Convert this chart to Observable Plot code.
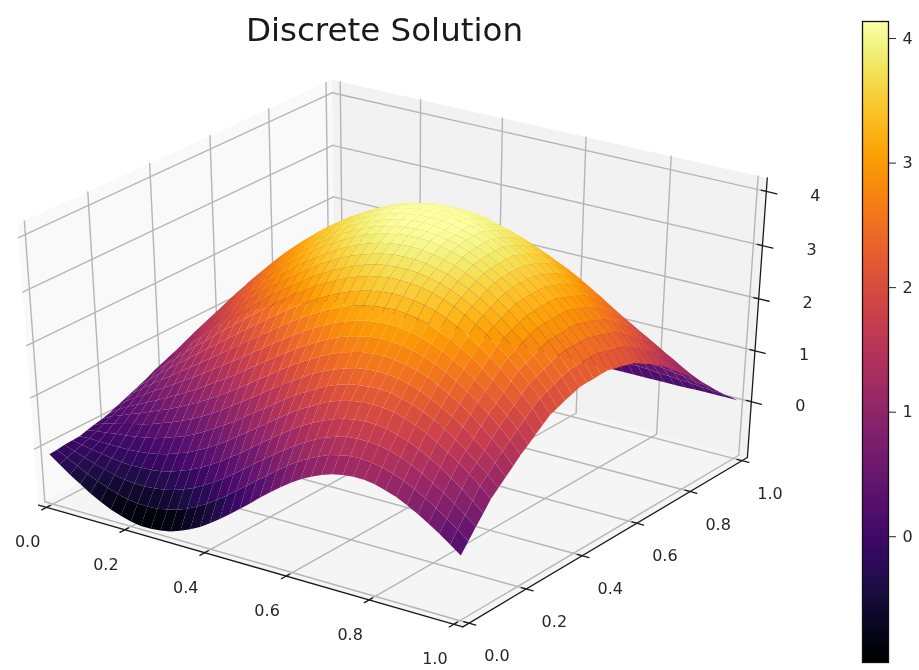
<!DOCTYPE html>
<html><head><meta charset="utf-8">
<script src="https://cdn.jsdelivr.net/npm/d3@7"></script>
<script src="https://cdn.jsdelivr.net/npm/@observablehq/plot@0.6"></script>
<style>body{margin:0;background:#fff;font-family:"DejaVu Sans"}#w{position:relative;width:919px;height:670px;overflow:hidden}#w svg{position:absolute;top:0;background:transparent;filter:blur(.4px)}</style>
</head><body><div id="w"></div>
<script>
const chartTitle="Discrete Solution";
const xTicks=[0,.2,.4,.6,.8,1], yTicks=[0,.2,.4,.6,.8,1], zTicks=[0,1,2,3,4];
const zMin=-1.01, zMax=4.137;
// Surface height times 100, rows y=0..1, columns x=0..1 in steps of 1/40.
// Edges read against the axes, the interior a smooth shape tuned by eye to the outline and colours.
const zRows=[
[-12,-27,-42,-55,-68,-79,-89,-96,-102,-105,-105,-103,-99,-92,-83,-73,-60,-46,-31,-15,1,18,34,49,63,76,86,95,102,106,108,108,105,99,92,82,71,58,45,30,15],
[-11,-21,-32,-42,-51,-59,-66,-71,-74,-74,-73,-69,-64,-56,-46,-35,-22,-8,7,22,38,53,68,83,96,107,117,125,130,134,135,133,129,123,115,105,93,80,65,50,34],
[-9,-16,-23,-30,-36,-41,-45,-47,-48,-46,-43,-38,-31,-23,-12,-1,12,26,41,56,71,86,100,113,125,136,145,152,157,159,159,157,153,146,137,127,114,101,86,70,53],
[-8,-11,-15,-18,-21,-24,-25,-24,-23,-20,-15,-8,0,9,20,32,46,59,74,89,103,117,131,143,154,164,172,178,182,184,183,181,175,168,159,148,135,121,106,89,71],
[-7,-6,-7,-7,-7,-7,-5,-3,1,6,13,20,30,40,52,64,78,92,106,120,134,148,161,172,183,192,199,204,207,208,207,204,198,190,181,169,156,142,126,109,90],
[-3,1,3,6,8,11,15,19,25,32,39,48,59,70,82,94,108,122,135,149,163,176,187,198,208,216,222,226,228,229,227,222,216,208,198,186,172,157,140,123,103],
[1,8,13,18,23,28,34,41,48,56,65,75,86,98,111,124,137,151,164,177,190,202,214,224,232,239,245,248,249,249,246,241,234,225,214,202,188,172,155,137,116],
[4,15,22,30,37,45,53,61,70,80,90,101,113,125,138,151,165,178,192,205,217,228,239,248,256,262,267,269,270,268,265,259,252,242,231,218,203,187,169,151,129],
[8,21,32,41,51,60,70,80,91,102,114,126,138,151,165,178,192,205,218,231,242,253,263,272,279,284,288,290,289,287,283,277,269,259,247,233,218,202,184,164,142],
[14,30,42,54,66,77,89,101,113,125,138,151,164,177,191,204,218,231,244,256,267,277,287,294,301,305,308,309,308,305,300,293,285,274,262,248,232,215,197,177,153],
[20,38,53,67,80,93,107,120,133,147,160,174,188,202,216,229,243,256,268,280,291,300,309,316,321,325,327,328,326,322,317,309,300,289,276,261,245,228,209,189,165],
[26,46,63,79,94,109,124,138,153,167,182,196,211,225,239,253,267,279,292,303,313,322,330,336,341,344,346,345,343,339,333,325,315,303,290,275,259,241,222,201,176],
[32,54,73,90,107,124,140,155,171,187,202,217,232,247,261,275,289,301,313,324,334,343,350,356,360,363,363,362,360,355,348,340,329,317,304,288,272,253,234,212,187],
[37,61,81,100,118,135,153,170,186,202,218,234,250,265,279,293,306,319,330,341,350,358,365,370,374,375,376,374,370,365,358,349,338,326,311,296,279,260,240,218,192],
[41,67,88,109,128,147,165,183,200,217,234,250,266,281,295,309,322,335,346,356,365,372,378,383,386,387,387,384,380,375,367,357,346,333,319,303,285,266,246,224,198],
[46,73,95,117,137,157,176,195,213,230,247,264,280,295,310,324,337,349,360,370,378,385,391,395,397,398,397,394,389,383,375,365,354,340,326,309,292,273,252,230,203],
[50,78,102,125,146,166,186,206,224,243,260,277,293,309,323,337,350,362,372,382,390,396,401,405,407,407,406,402,397,391,382,372,360,347,332,315,298,278,258,235,208],
[54,83,108,131,153,174,195,214,233,252,270,287,303,319,333,347,359,371,381,390,397,403,408,411,412,412,410,406,401,394,385,374,362,349,333,317,299,279,259,236,209],
[58,88,113,137,159,181,202,222,241,260,278,295,311,327,341,354,367,378,388,396,403,409,413,416,417,416,413,409,404,396,387,376,364,350,335,318,300,280,259,237,209],
[62,92,118,142,165,187,208,229,248,267,285,302,318,334,348,361,373,384,393,401,408,413,417,419,419,418,416,411,405,398,388,377,364,350,335,318,300,281,260,237,210],
[66,97,123,147,170,192,214,234,254,273,291,308,324,339,353,366,377,388,397,405,411,416,419,421,421,419,416,412,405,397,388,377,364,350,335,318,300,281,260,237,210],
[68,98,124,149,172,194,216,236,256,274,292,309,325,340,353,366,377,387,396,403,409,414,416,418,418,416,412,407,401,393,383,372,359,345,330,313,296,276,256,233,206],
[69,100,126,150,173,195,216,236,255,274,292,309,324,338,352,364,375,385,393,400,406,410,412,413,413,411,407,402,395,387,378,367,354,340,325,308,291,272,251,229,203],
[71,101,127,151,173,195,216,236,256,274,291,307,322,337,350,361,372,381,389,396,401,404,407,407,407,404,400,395,388,380,370,359,347,333,319,302,285,267,247,225,199],
[72,102,127,151,173,195,215,235,254,272,289,304,319,333,345,357,367,376,383,389,394,398,399,399,399,397,393,387,381,372,362,352,340,326,312,296,279,261,242,221,195],
[71,100,125,148,170,191,211,230,248,265,282,297,311,324,336,347,357,365,372,378,382,385,387,387,386,383,379,374,367,359,350,339,327,314,300,285,268,251,232,211,186],
[70,98,122,144,166,186,205,224,241,258,274,288,302,314,326,336,345,353,360,365,369,372,373,373,372,369,365,360,353,345,336,325,314,301,287,273,257,240,221,202,178],
[69,96,119,140,161,180,199,217,233,249,264,278,291,303,314,324,332,340,346,351,355,357,358,358,356,354,350,344,338,330,321,311,300,288,274,260,245,228,211,192,169],
[68,94,116,136,156,174,192,209,225,240,254,267,279,291,301,310,318,325,331,335,339,341,342,341,340,337,333,328,321,314,305,296,285,273,261,247,232,217,200,182,160],
[64,88,109,128,146,164,180,196,211,226,239,251,263,274,283,292,299,305,311,315,318,320,321,320,318,316,312,307,301,294,285,276,266,255,243,230,216,202,186,169,148],
[59,82,101,119,136,153,168,183,197,211,223,235,245,255,264,272,279,285,289,293,296,298,298,298,296,293,290,285,279,272,265,256,246,236,224,212,199,186,171,155,136],
[55,76,93,110,126,141,156,169,182,195,206,217,227,236,244,251,257,263,267,270,273,274,275,274,272,270,266,262,257,250,243,235,226,217,206,195,183,170,157,142,124],
[50,69,86,101,115,129,142,155,167,178,188,198,207,215,222,229,235,239,243,246,248,250,250,249,248,245,242,238,233,227,221,213,205,196,187,177,166,154,142,128,112],
[44,61,76,89,102,115,126,138,148,158,167,176,184,191,198,204,209,213,217,219,221,222,222,222,220,218,215,211,207,201,196,189,182,174,165,156,146,136,125,112,98],
[38,53,65,77,89,100,110,120,129,138,146,154,161,167,173,178,182,186,189,191,193,193,193,193,192,190,187,184,180,175,170,164,157,150,143,135,126,117,107,96,84],
[31,44,55,65,75,84,93,101,109,117,124,130,136,141,146,151,154,157,160,162,163,164,164,163,162,160,158,155,152,148,143,138,133,126,120,113,106,98,89,80,69],
[25,36,45,53,61,68,76,83,89,95,101,106,111,115,119,123,126,128,130,132,133,133,133,133,132,130,128,126,123,120,116,112,107,102,97,91,85,79,72,64,55],
[19,27,34,40,47,52,58,63,68,73,77,82,85,89,92,94,97,99,100,101,102,103,103,102,102,100,99,97,95,92,89,86,83,79,75,70,66,61,55,50,43],
[13,18,23,28,32,36,40,44,47,50,53,56,59,61,63,65,67,68,69,70,71,71,71,71,70,70,69,67,66,64,62,60,58,55,52,49,46,42,39,35,30],
[6,9,12,14,17,19,21,23,25,27,28,30,31,33,34,35,36,37,37,38,38,38,38,38,38,38,37,37,36,35,34,33,32,30,29,27,26,24,22,20,18],
[0,0,0,0,1,1,1,1,1,1,1,1,2,2,2,2,2,2,2,2,3,3,3,3,3,3,3,3,4,4,4,4,4,4,4,4,5,5,5,5,5]];
const p=1/48, zp=(zMax-zMin)/48, zb=zMin-zp, zt=zMax+zp;
// Camera of the 3D view (homogeneous 3×4 matrix from x, y, z to the page).
const C=[389.2654,309.1882,-4.115409,48.41352,87.60285,-127.4428,-55.29691,447.5744,-0.0489432,0.06272582,-0.01033346,1];
const proj=(x,y,z)=>{const w=C[8]*x+C[9]*y+C[10]*z+C[11];return [(C[0]*x+C[1]*y+C[2]*z+C[3])/w,(C[4]*x+C[5]*y+C[6]*z+C[7])/w];};
const pt=(id,x,y,z)=>{const q=proj(x,y,z);return {id,X:q[0],Y:q[1]};};
const poly=(id,c)=>[...c,c[0]].map(k=>pt(id,...k));
const a=-p,b=1+p;
const paneX=poly("x",[[a,a,zb],[a,b,zb],[a,b,zt],[a,a,zt]]);
const paneY=poly("y",[[a,b,zb],[b,b,zb],[b,b,zt],[a,b,zt]]);
const paneZ=poly("z",[[a,a,zb],[b,a,zb],[b,b,zb],[a,b,zb]]);
const seg=(id,s,e)=>[pt(id,...s),pt(id,...e)];
const grid=[];
xTicks.forEach((t,i)=>grid.push(...seg("gx"+i,[t,a,zb],[t,b,zb]),...seg("hx"+i,[t,b,zb],[t,b,zt])));
yTicks.forEach((t,i)=>grid.push(...seg("gy"+i,[a,t,zb],[b,t,zb]),...seg("hy"+i,[a,t,zb],[a,t,zt])));
zTicks.forEach((t,i)=>grid.push(...seg("z1"+i,[a,a,t],[a,b,t]),...seg("z2"+i,[a,b,t],[b,b,t])));
const axes=[...seg("ax",[a,a,zb],[b,a,zb]),...seg("ay",[b,a,zb],[b,b,zb]),...seg("az",[b,b,zb],[b,b,zt])];
xTicks.forEach((t,i)=>axes.push(...seg("tx"+i,[t,a+.012,zb],[t,a-.016,zb])));
yTicks.forEach((t,i)=>axes.push(...seg("ty"+i,[b-.012,t,zb],[b+.016,t,zb])));
zTicks.forEach((t,i)=>axes.push(...seg("tz"+i,[b-.012,b,t],[b+.024,b,t])));
const n=zRows.length-1, quads=[];
for(let j=0;j<n;j++)for(let i=0;i<n;i++){
 const c=[[i,j],[i+1,j],[i+1,j+1],[i,j+1]].map(([ii,jj])=>[ii/n,jj/n,zRows[jj][ii]/100]);
 quads.push({id:j*100+i,v:d3.mean(c,k=>k[2]),dep:d3.mean(c,k=>C[8]*k[0]+C[9]*k[1]+C[10]*k[2]+C[11]),c});
}
quads.sort((q,r)=>d3.descending(q.dep,r.dep));
const surf=quads.flatMap(q=>poly(q.id,q.c).map(d=>({...d,v:q.v})));
const lab=(x,y,z,t)=>{const q=proj(x,y,z);return {X:q[0],Y:q[1],t};};
const lineO={x:"X",y:"Y",z:"id"};
const ff="DejaVu Sans", tf=16;
const txt={x:"X",y:"Y",text:"t",fontSize:tf,fontFamily:ff,fill:"#262626"};
const main=Plot.plot({width:919,height:670,margin:0,style:{background:"transparent",fontFamily:ff},
 x:{domain:[0,919],range:[0,919],axis:null},y:{domain:[0,670],range:[0,670],axis:null},
 color:{type:"linear",scheme:"inferno",domain:[zMin,zMax]},
 marks:[
 Plot.line(paneX,{...lineO,fill:"#f9f9f9",stroke:"none"}),
 Plot.line(paneY,{...lineO,fill:"#f2f2f2",stroke:"none"}),
 Plot.line(paneZ,{...lineO,fill:"#f5f5f5",stroke:"none"}),
 Plot.line(grid,{...lineO,stroke:"#b5b5b5",strokeWidth:1.4}),
 Plot.line(axes,{...lineO,stroke:"#1a1a1a",strokeWidth:1.3}),
 Plot.line(surf,{...lineO,fill:"v",stroke:"none"}),
 Plot.text(xTicks.map(t=>lab(t,a,zb,t.toFixed(1))),{...txt,dx:-19,dy:35}),
 Plot.text(yTicks.map(t=>lab(b,t,zb,t.toFixed(1))),{...txt,dx:28,dy:33}),
 Plot.text(zTicks.map(t=>lab(b,b,t,String(t))),{...txt,dx:49,dy:4}),
 Plot.text([chartTitle],{frameAnchor:"top-left",text:d=>d,dx:384,dy:17,fontSize:32.5,fontFamily:ff,fill:"#1a1a1a",textAnchor:"middle"})
 ]});
const w=document.getElementById("w");main.style.left="0";w.append(main);
const bands=d3.range(256).map(i=>{const s=(zMax-zMin)/256;return {lo:zMin+i*s,hi:zMin+(i+1)*s};});
const bar=Plot.plot({width:79,height:670,marginLeft:22,marginRight:31,marginTop:21,marginBottom:8,style:{background:"transparent",fontFamily:ff},
 x:{domain:[0,1],axis:null},y:{domain:[zMin,zMax],axis:null},color:{type:"linear",scheme:"inferno",domain:[zMin,zMax]},
 marks:[
 Plot.rect(bands,{x1:0,x2:1,y1:"lo",y2:"hi",fill:d=>(d.lo+d.hi)/2,shapeRendering:"crispEdges"}),
 Plot.frame({stroke:"#111",strokeWidth:1.3}),
 Plot.axisY(zTicks,{anchor:"right",tickSize:7,tickPadding:7,fontSize:tf,tickFormat:d=>String(d),label:null,color:"#262626"})
 ]});
bar.style.left="840px";w.append(bar);
</script></body></html>
